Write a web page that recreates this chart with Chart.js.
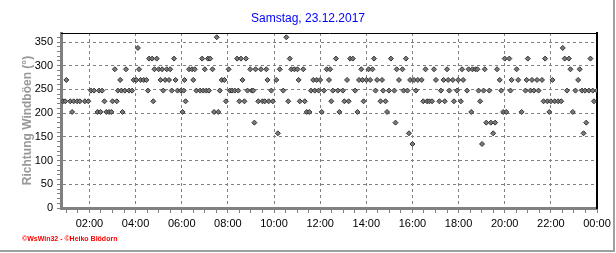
<!DOCTYPE html>
<html>
<head>
<meta charset="utf-8">
<title>Richtung Windböen</title>
<script src="https://cdn.jsdelivr.net/npm/chart.js@4/dist/chart.umd.min.js"></script>
<style>
  body { margin: 0; background: #fff; }
  #wrap { position: relative; width: 616px; height: 253px; }
  #frame { position: absolute; left: 0; top: 0; width: 613px; height: 250px; border-right: 2px solid #a0a0a0; border-bottom: 2px solid #a0a0a0; pointer-events: none; }
  #copy { position: absolute; left: 22px; top: 234px; font: bold 7px Arial, "Liberation Sans", sans-serif; line-height: 9px; color: #f00; white-space: nowrap; }
</style>
</head>
<body>
<div id="wrap">
  <canvas id="myChart" width="616" height="253"></canvas>
  <div id="frame"></div>
  <div id="copy">©WsWin32 - ©Heiko Blödorn</div>
</div>
<script>
// minutes since midnight of each reading, and gust direction in degrees
var times = [
  51, 57, 60, 70, 75, 79, 88, 95, 108, 117, 124, 132, 141, 145, 149, 153, 159, 164, 171, 177,
  180, 186, 191, 194, 200, 203, 206, 212, 215, 223, 231, 235, 242, 246, 249, 253, 261, 268, 272, 275,
  283, 286, 289, 295, 300, 305, 309, 312, 317, 321, 327, 330, 334, 340, 344, 349, 358, 362, 365, 367,
  370, 379, 387, 390, 394, 398, 408, 413, 416, 420, 424, 428, 431, 434, 440, 444, 451, 455, 459, 464,
  471, 475, 482, 485, 491, 498, 504, 507, 510, 514, 518, 523, 527, 531, 538, 542, 546, 549, 552, 559,
  566, 570, 576, 580, 583, 586, 593, 597, 606, 610, 615, 624, 632, 637, 641, 645, 653, 661, 664, 667,
  676, 680, 685, 692, 696, 702, 706, 711, 716, 720, 724, 730, 737, 743, 746, 749, 753, 761, 766, 770,
  779, 783, 790, 794, 798, 805, 811, 817, 821, 827, 830, 833, 840, 846, 850, 856, 860, 864, 868, 877,
  881, 884, 890, 894, 899, 904, 913, 916, 919, 925, 934, 937, 943, 947, 951, 954, 960, 964, 969, 974,
  984, 988, 994, 998, 1004, 1011, 1016, 1021, 1030, 1034, 1041, 1044, 1050, 1053, 1056, 1065, 1068, 1076, 1079, 1086,
  1089, 1092, 1102, 1106, 1113, 1116, 1124, 1129, 1132, 1136, 1141, 1145, 1148, 1152, 1160, 1164, 1170, 1175, 1180, 1187,
  1191, 1196, 1200, 1204, 1212, 1215, 1218, 1231, 1235, 1244, 1254, 1257, 1260, 1267, 1271, 1276, 1284, 1288, 1297, 1301,
  1305, 1311, 1316, 1320, 1324, 1330, 1339, 1347, 1351, 1356, 1362, 1367, 1371, 1377, 1384, 1391, 1395, 1401, 1405, 1409,
  1412, 1419, 1423, 1429, 1432, 1440
];
var dirs = [
  225, 225, 270, 225, 202.5, 225, 225, 225, 225, 225, 247.5, 247.5, 202.5, 247.5, 202.5, 247.5, 225, 202.5, 202.5, 202.5,
  225, 292.5, 225, 247.5, 270, 247.5, 202.5, 247.5, 292.5, 247.5, 247.5, 270, 270, 337.5, 292.5, 270, 270, 270, 247.5, 315,
  315, 225, 292.5, 315, 292.5, 270, 292.5, 247.5, 270, 292.5, 270, 292.5, 247.5, 315, 270, 247.5, 247.5, 202.5, 247.5, 270,
  225, 292.5, 292.5, 270, 292.5, 247.5, 247.5, 315, 247.5, 292.5, 247.5, 315, 247.5, 315, 292.5, 202.5, 360, 202.5, 247.5, 270,
  270, 225, 292.5, 247.5, 247.5, 247.5, 315, 247.5, 225, 315, 270, 225, 315, 247.5, 292.5, 247.5, 247.5, 180, 292.5, 225,
  292.5, 225, 225, 292.5, 270, 225, 247.5, 225, 270, 157.5, 292.5, 247.5, 360, 225, 315, 292.5, 292.5, 292.5, 270, 225,
  292.5, 225, 202.5, 202.5, 247.5, 270, 247.5, 270, 247.5, 270, 202.5, 247.5, 292.5, 270, 292.5, 225, 247.5, 315, 247.5, 202.5,
  247.5, 225, 270, 225, 315, 315, 247.5, 202.5, 270, 292.5, 270, 225, 270, 292.5, 270, 292.5, 315, 247.5, 270, 225,
  270, 247.5, 225, 202.5, 247.5, 315, 247.5, 180, 292.5, 270, 292.5, 247.5, 315, 247.5, 157.5, 270, 135, 270, 247.5, 270,
  270, 225, 292.5, 225, 225, 225, 292.5, 270, 225, 247.5, 270, 225, 292.5, 270, 247.5, 270, 225, 247.5, 270, 225,
  292.5, 270, 247.5, 292.5, 202.5, 292.5, 292.5, 292.5, 247.5, 225, 135, 247.5, 292.5, 180, 247.5, 180, 157.5, 180, 292.5, 270,
  247.5, 202.5, 315, 202.5, 315, 247.5, 270, 292.5, 270, 202.5, 247.5, 270, 315, 247.5, 270, 247.5, 270, 247.5, 270, 225,
  315, 225, 202.5, 225, 270, 225, 225, 225, 337.5, 315, 247.5, 315, 292.5, 202.5, 247.5, 270, 292.5, 247.5, 157.5, 247.5,
  180, 247.5, 315, 247.5, 225, 247.5
];
// axis: from first reading to midnight, labels every 2 hours
var xStart = 46, xEnd = 1440;
var yMax = 369;

var font = 'Arial, "Liberation Sans", sans-serif';
var gridGray = '#808080';

function hhmm(m) {
  var h = Math.floor(m / 60) % 24;
  return (h < 10 ? '0' : '') + h + ':00';
}

var points = times.map(function (t, i) {
  return { x: t, y: dirs[i] };
});

var ctx = document.getElementById("myChart");
let myChart = new Chart(ctx, {
  type: 'scatter',
  data: {
    datasets: [{
      data: points,
      xAxisID: 'x',
      yAxisID: 'y',
      pointStyle: 'rectRot',
      pointRadius: 2.5,
      backgroundColor: '#7a7a7a',
      borderColor: '#333333',
      borderWidth: 1
    }]
  },
  options: {
    responsive: false,
    animation: false,
    layout: { padding: { top: 4, left: 0, right: 0, bottom: 0 } },
    plugins: {
      legend: { display: false },
      tooltip: { enabled: false },
      title: {
        display: true,
        text: 'Samstag, 23.12.2017',
        color: '#0000ff',
        font: { family: font, size: 12, weight: 'normal' },
        padding: { top: 7, bottom: 7.6 }
      }
    },
    scales: {
      x: {
        type: 'linear',
        position: 'bottom',
        min: xStart,
        max: xEnd,
        afterBuildTicks: function (s) {
          var t = [];
          for (var m = 60; m <= xEnd; m += 30) t.push({ value: m });
          s.ticks = t;
        },
        afterFit: function (s) { s.height = 45; },
        ticks: {
          autoSkip: false,
          maxRotation: 0,
          color: '#000',
          padding: 4,
          font: { family: font, size: 11 },
          callback: function (v) { return v % 120 === 0 ? hhmm(v) : ''; }
        },
        grid: {
          color: function (c) { return c.tick && c.tick.value % 120 === 0 ? gridGray : 'transparent'; },
          tickColor: gridGray,
          tickLength: 5
        },
        border: { color: gridGray, width: 3, dash: [3, 3] }
      },
      y: {
        type: 'linear',
        position: 'left',
        min: 0,
        max: yMax,
        afterBuildTicks: function (s) {
          var t = [];
          for (var v = 0; v <= 360; v += 10) t.push({ value: v });
          s.ticks = t;
        },
        afterFit: function (s) { s.width = 61; },
        ticks: {
          autoSkip: false,
          color: '#000',
          padding: 4,
          font: { family: font, size: 11 },
          callback: function (v) { return v % 50 === 0 ? v : ''; }
        },
        grid: {
          color: function (c) { return c.tick && c.tick.value % 50 === 0 && c.tick.value > 0 ? gridGray : 'transparent'; },
          tickColor: gridGray,
          tickLength: 4
        },
        border: { color: gridGray, width: 3, dash: [3, 3] },
        title: {
          display: true,
          text: 'Richtung Windböen (°)',
          color: '#999999',
          font: { family: font, size: 12, weight: 'bold' },
          padding: { top: 20, bottom: 0 }
        }
      },
      // frame lines on top and right of the plot
      xt: {
        axis: 'x',
        type: 'linear',
        position: 'top',
        min: 0,
        max: 1,
        afterFit: function (s) { s.height = 0; },
        ticks: { display: false },
        grid: { display: false },
        border: { display: true, color: '#000', width: 1 }
      },
      yr: {
        axis: 'y',
        type: 'linear',
        position: 'right',
        min: 0,
        max: 1,
        afterFit: function (s) { s.width = 19; },
        ticks: { display: false },
        grid: { display: false },
        border: { display: true, color: '#000', width: 2 }
      }
    }
  }
});
</script>
</body>
</html>
